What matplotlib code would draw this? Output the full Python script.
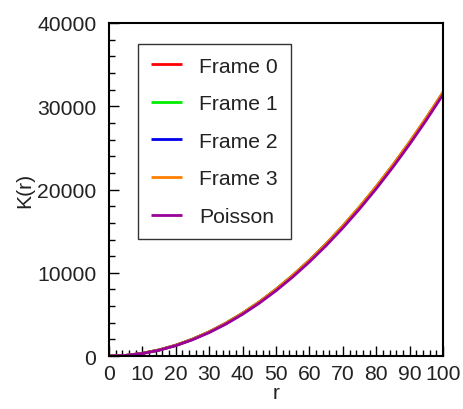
import matplotlib
matplotlib.use("Agg")
import matplotlib.pyplot as plt
from matplotlib.ticker import MultipleLocator

plt.rcParams['font.family'] = ['Liberation Sans', 'DejaVu Sans']

r = [0, 5, 10, 15, 20, 25, 30, 35, 40, 45, 50, 55, 60, 65, 70, 75, 80, 85, 90, 95, 100]
poisson = [0, 79, 314, 707, 1257, 1963, 2827, 3848, 5027, 6362, 7854, 9503, 11310,
           13273, 15394, 17671, 20106, 22698, 25447, 28353, 31416]
frame0 = [0, 85, 330, 735, 1300, 2025, 2905, 3945, 5140, 6490, 8000, 9665, 11480,
          13455, 15585, 17870, 20310, 22905, 25655, 28560, 31620]
frame1 = [0, 86, 335, 742, 1310, 2038, 2922, 3965, 5165, 6520, 8035, 9705, 11525,
          13505, 15640, 17925, 20365, 22960, 25705, 28610, 31660]
frame2 = [0, 84, 328, 732, 1296, 2020, 2898, 3938, 5132, 6480, 7990, 9655, 11470,
          13442, 15572, 17856, 20296, 22890, 25640, 28545, 31600]
frame3 = [0, 86, 334, 740, 1308, 2035, 2920, 3962, 5162, 6518, 8032, 9702, 11522,
          13502, 15640, 17930, 20375, 22975, 25725, 28640, 31700]

series = [("Frame 0", frame0, "#ff0000"),
          ("Frame 1", frame1, "#00ee00"),
          ("Frame 2", frame2, "#0000ee"),
          ("Frame 3", frame3, "#ff8000"),
          ("Poisson", poisson, "#990099")]

FS = 15.2
fig = plt.figure(figsize=(4.63, 4.10), dpi=100)
ax = fig.add_axes([0.2354, 0.129, 0.7216, 0.8125])
for name, vals, col in series:
    ax.plot(r, vals, color=col, lw=2.0, label=name, solid_capstyle='butt')

ax.set_xlim(0, 100)
ax.set_ylim(0, 40000)
ax.xaxis.set_major_locator(MultipleLocator(10))
ax.xaxis.set_minor_locator(MultipleLocator(2))
ax.yaxis.set_major_locator(MultipleLocator(10000))
ax.yaxis.set_minor_locator(MultipleLocator(2000))
ax.tick_params(which='both', direction='in', top=False, right=False, labelsize=FS,
               colors='black', labelcolor='#222222')
ax.tick_params(axis='y', which='major', pad=9)
ax.tick_params(axis='x', which='major', pad=6)
ax.tick_params(which='major', length=7, width=1.0)
ax.tick_params(which='minor', length=4, width=1.0)
for s in ax.spines.values():
    s.set_linewidth(1.5)
ax.set_xlabel("r", fontsize=FS, labelpad=0, color='#222222')
ax.set_ylabel("K(r)", fontsize=FS, labelpad=2, color='#222222')

leg = ax.legend(loc='upper left', bbox_to_anchor=(0.087, 0.937), fontsize=FS,
                frameon=True, fancybox=False, edgecolor='black', handlelength=1.5,
                handletextpad=0.8, labelspacing=0.88, borderpad=0.6, borderaxespad=0)
leg.get_frame().set_linewidth(1.0)
for t in leg.get_texts():
    t.set_color('#222222')

fig.savefig("out.png", dpi=100)
